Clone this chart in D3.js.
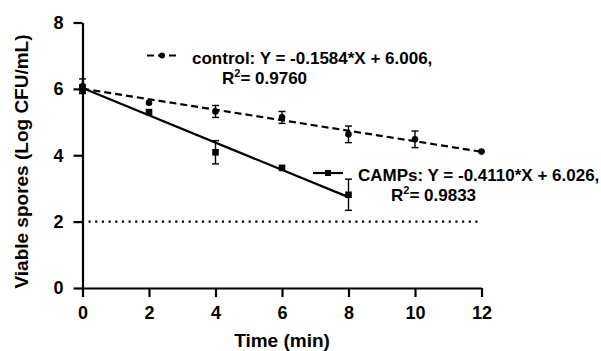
<!DOCTYPE html>
<html>
<head>
<meta charset="utf-8">
<script src="https://cdn.jsdelivr.net/npm/d3@7"></script>
<style>
  body { margin: 0; background: #fff; }
  svg { display: block; font-family: Arial, "Liberation Sans", Helvetica, sans-serif; font-weight: bold; }
</style>
</head>
<body>
<div id="chart"></div>
<script>
// data
const controlTimes = [0, 2, 4, 6, 8, 10, 12];
const controlMean  = [6.08, 5.58, 5.32, 5.14, 4.63, 4.48, 4.11];
const controlSd    = [0.22, 0.05, 0.18, 0.18, 0.25, 0.25, 0.03];

const campsTimes = [0, 2, 4, 6, 8];
const campsMean  = [6.0, 5.3, 4.09, 3.62, 2.81];
const campsSd    = [0.12, 0.06, 0.35, 0.04, 0.47];

// linear fits as printed in the legend
const controlFit = { slope: -0.1584, intercept: 6.006, xMax: 12 };
const campsFit   = { slope: -0.4110, intercept: 6.026, xMax: 8 };

const detectionLimit = 2;

const xTicks = [0, 2, 4, 6, 8, 10, 12];
const yTicks = [0, 2, 4, 6, 8];

const width = 601, height = 351;

const svg = d3.select("#chart").append("svg")
    .attr("width", width)
    .attr("height", height);

const x = d3.scaleLinear().domain([0, 12]).range([82.5, 481.5]);
const y = d3.scaleLinear().domain([0, 8]).range([288, 22.5]);

// axes
const xAxis = d3.axisBottom(x).tickValues(xTicks).tickSize(9).tickPadding(9).tickSizeOuter(0);
const yAxis = d3.axisLeft(y).tickValues(yTicks).tickSize(9).tickPadding(10).tickSizeOuter(0);

svg.append("g")
   .attr("transform", "translate(0," + y(0) + ")")
   .call(xAxis)
   .call(g => g.selectAll("text").attr("font-size", 18).attr("font-weight", "bold").attr("fill", "#000").attr("font-family", null));

svg.append("g")
   .attr("transform", "translate(" + x(0) + ",0)")
   .call(yAxis)
   .call(g => g.selectAll("text").attr("font-size", 18).attr("font-weight", "bold").attr("fill", "#000").attr("font-family", null));

svg.selectAll(".domain, .tick line").attr("stroke", "#000").attr("stroke-width", 2.2);

// axis titles
svg.append("text")
   .attr("x", (x(0) + x(12)) / 2)
   .attr("y", 347)
   .attr("text-anchor", "middle")
   .attr("font-size", 19)
   .text("Time (min)");

svg.append("text")
   .attr("transform", "translate(28," + 161.5 + ") rotate(-90)")
   .attr("text-anchor", "middle")
   .attr("font-size", 19)
   .text("Viable spores (Log CFU/mL)");

// detection limit
svg.append("line")
   .attr("x1", x(0) + 6).attr("x2", x(12) - 4)
   .attr("y1", y(detectionLimit)).attr("y2", y(detectionLimit))
   .attr("stroke", "#000")
   .attr("stroke-width", 2.2)
   .attr("stroke-dasharray", "2.2,4.47");

// fit lines
function fitLine(fit, dash) {
  svg.append("line")
     .attr("x1", x(0)).attr("y1", y(fit.intercept))
     .attr("x2", x(fit.xMax)).attr("y2", y(fit.intercept + fit.slope * fit.xMax))
     .attr("stroke", "#000")
     .attr("stroke-width", 2.2)
     .attr("stroke-dasharray", dash);
}
fitLine(controlFit, "7,4");
fitLine(campsFit, null);

// error bars, hidden when shorter than the symbol
function errorBars(times, mean, sd) {
  times.forEach((t, i) => {
    const top = y(mean[i] + sd[i]), bot = y(mean[i] - sd[i]);
    if (bot - y(mean[i]) < 3.5) return;
    const g = svg.append("g").attr("stroke", "#000").attr("stroke-width", 1.4);
    g.append("line").attr("x1", x(t)).attr("x2", x(t)).attr("y1", top).attr("y2", bot);
    g.append("line").attr("x1", x(t) - 3.5).attr("x2", x(t) + 3.5).attr("y1", top).attr("y2", top);
    g.append("line").attr("x1", x(t) - 3.5).attr("x2", x(t) + 3.5).attr("y1", bot).attr("y2", bot);
  });
}
errorBars(controlTimes, controlMean, controlSd);
errorBars(campsTimes, campsMean, campsSd);

// symbols
svg.selectAll(".ctrl")
   .data(controlTimes)
   .enter().append("circle")
   .attr("cx", d => x(d))
   .attr("cy", (d, i) => y(controlMean[i]))
   .attr("r", 3.3)
   .attr("fill", "#000");

svg.selectAll(".camps")
   .data(campsTimes)
   .enter().append("rect")
   .attr("x", d => x(d) - 3.3)
   .attr("y", (d, i) => y(campsMean[i]) - 3.3)
   .attr("width", 6.6)
   .attr("height", 6.6)
   .attr("fill", "#000");

// legend
function legendEntry(lx, ly, dash, symbol, line1, r2, r2x) {
  svg.append("line")
     .attr("x1", lx).attr("x2", lx + 30)
     .attr("y1", ly).attr("y2", ly)
     .attr("stroke", "#000").attr("stroke-width", 2.2)
     .attr("stroke-dasharray", dash);
  if (symbol === "circle") {
    svg.append("circle").attr("cx", lx + 15).attr("cy", ly).attr("r", 3).attr("fill", "#000");
  } else {
    svg.append("rect").attr("x", lx + 12).attr("y", ly - 3).attr("width", 6).attr("height", 6).attr("fill", "#000");
  }
  svg.append("text")
     .attr("x", lx + 45).attr("y", ly + 8)
     .attr("font-size", 17)
     .text(line1);
  const t = svg.append("text")
     .attr("x", r2x).attr("y", ly + 28)
     .attr("font-size", 17);
  t.append("tspan").text("R");
  t.append("tspan").attr("font-size", 11).attr("dy", -7).text("2");
  t.append("tspan").attr("dy", 7).text("= " + r2);
}
legendEntry(147, 55.5, "7,4", "circle", "control: Y = " + controlFit.slope.toFixed(4) + "*X + " + controlFit.intercept.toFixed(3) + ",", "0.9760", 222);
legendEntry(313, 173, null, "rect", "CAMPs: Y = " + campsFit.slope.toFixed(4) + "*X + " + campsFit.intercept.toFixed(3) + ",", "0.9833", 391);
</script>
</body>
</html>
